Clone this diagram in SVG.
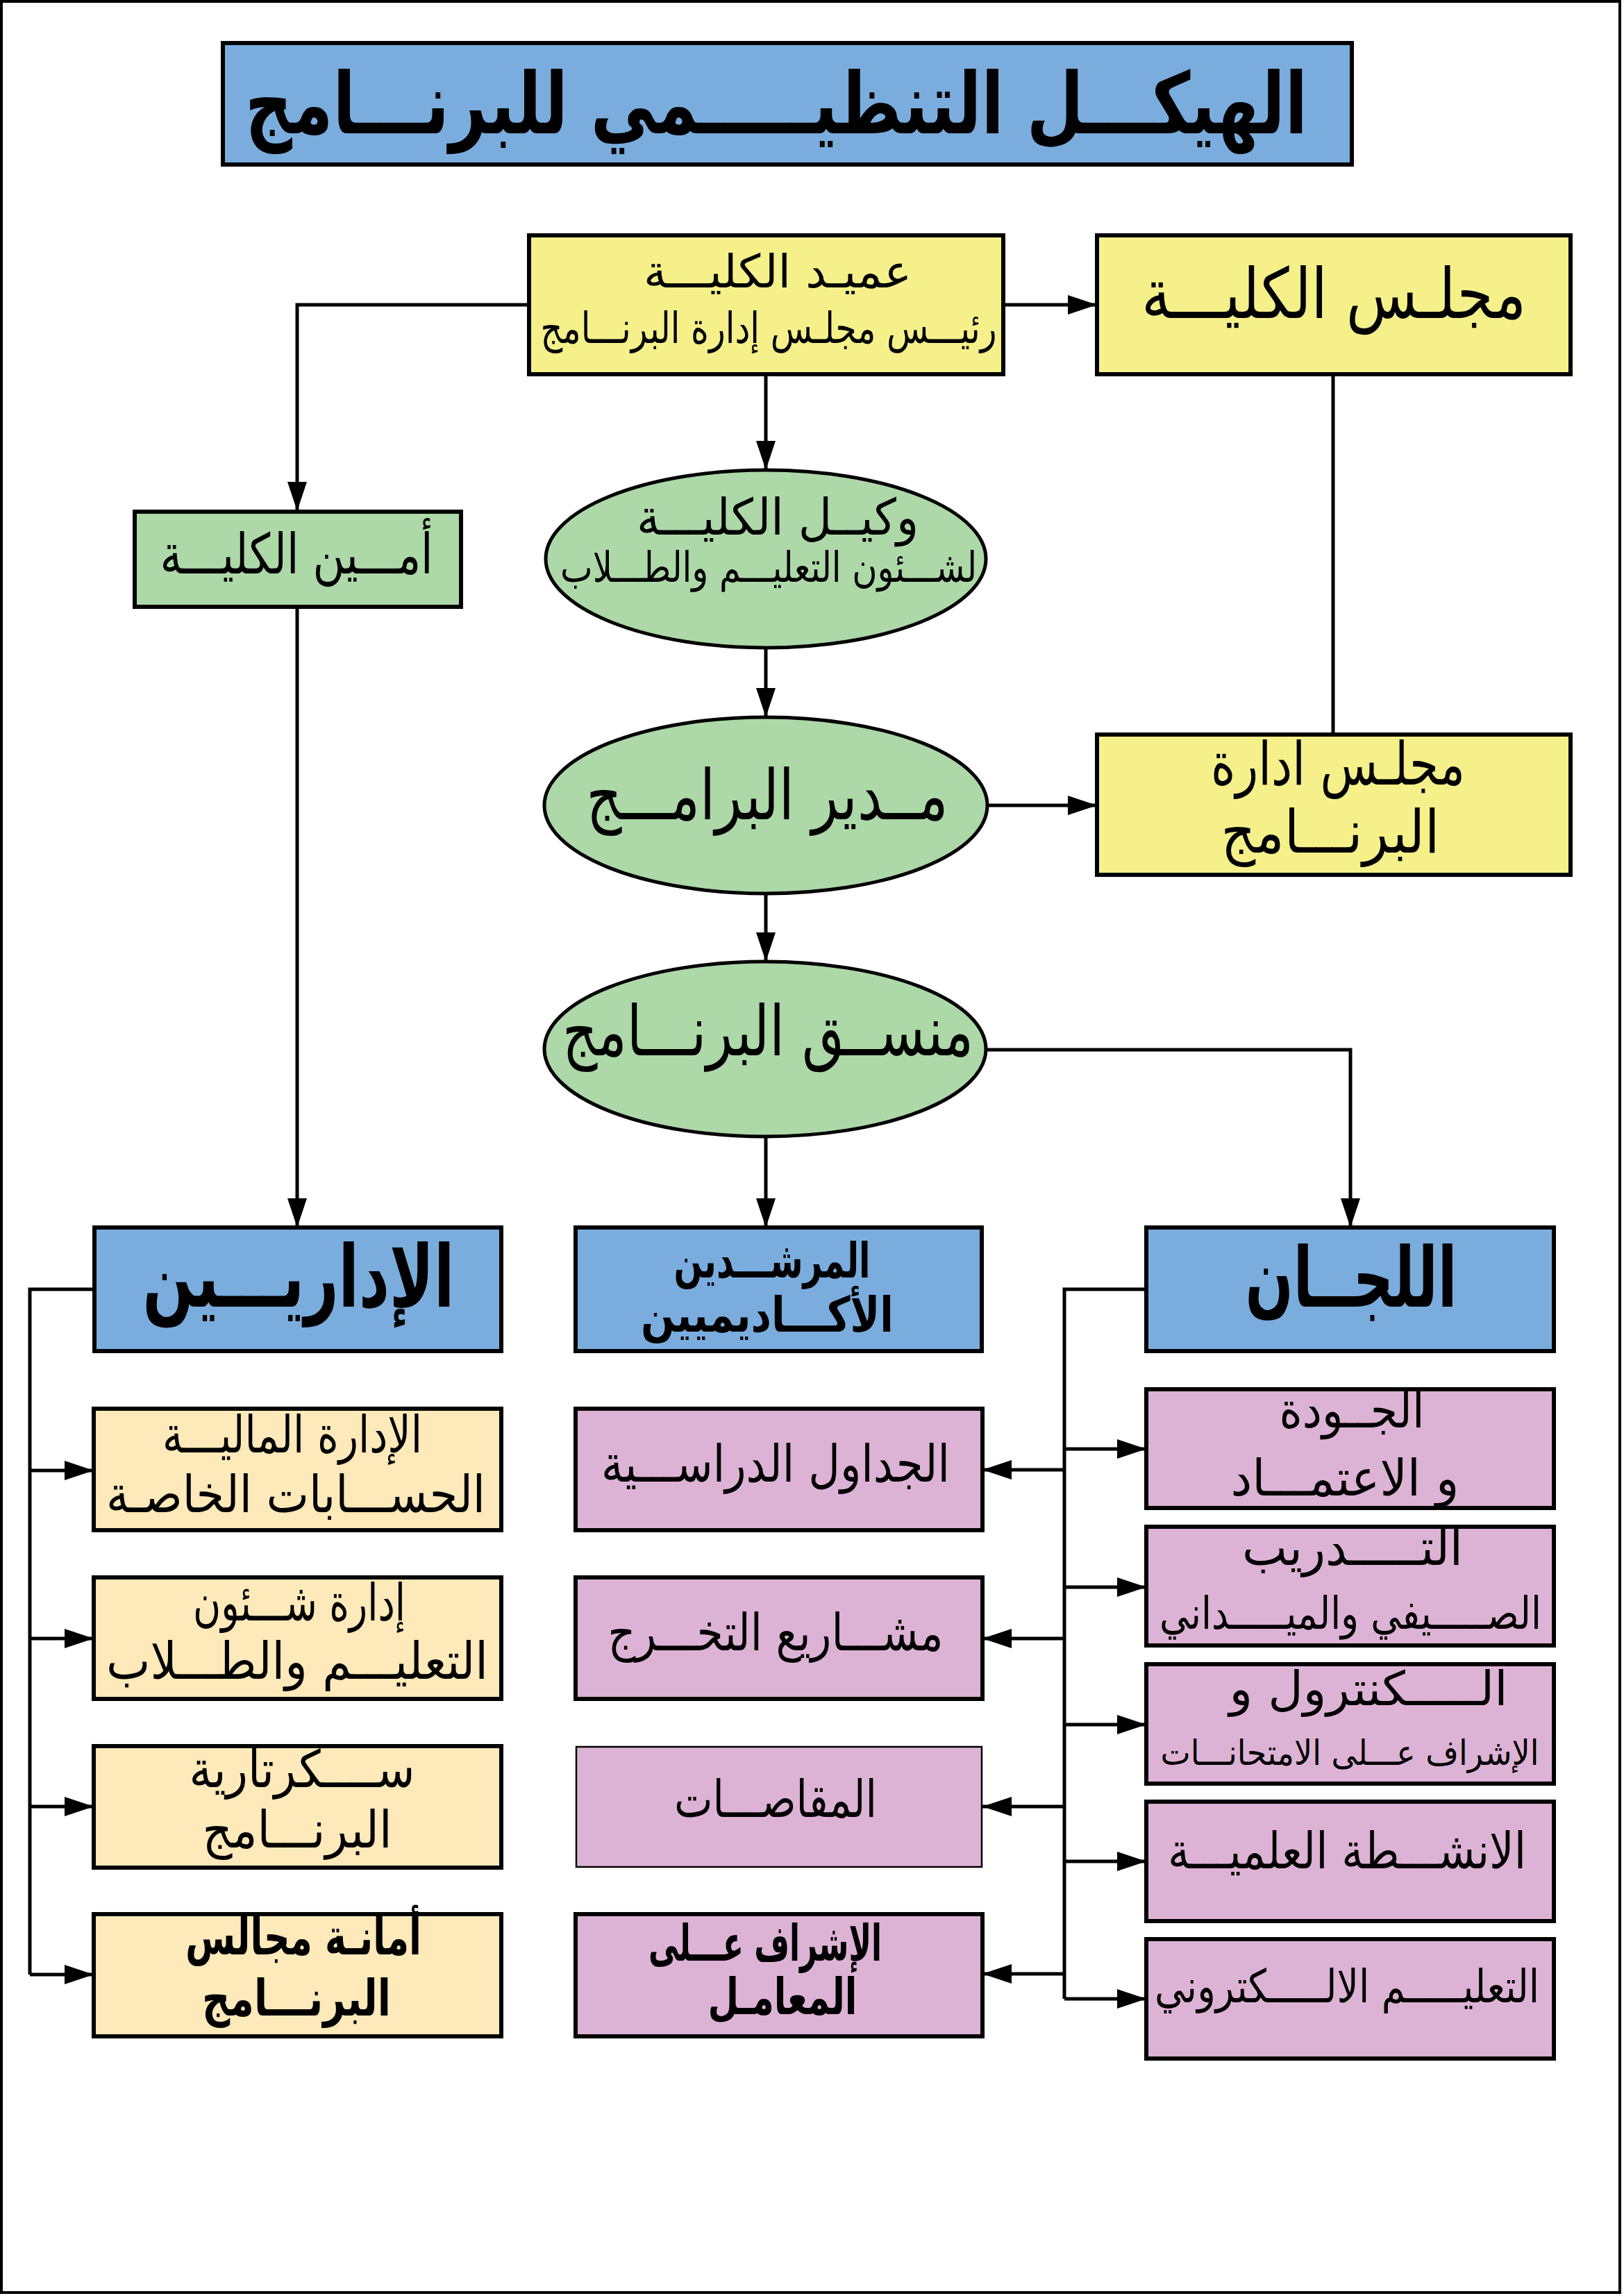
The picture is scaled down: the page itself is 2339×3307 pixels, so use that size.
<svg xmlns="http://www.w3.org/2000/svg" width="2339" height="3307" viewBox="0 0 2339 3307">
<style>
.box{stroke:#000;stroke-width:6}
.thin{stroke:#000;stroke-width:2.5}
.blue{fill:#7aaddd}
.yel{fill:#f5f08a}
.grn{fill:#add8a8}
.peach{fill:#fde9b9}
.pink{fill:#ddb3d5}
text{font-family:"DejaVu Sans",sans-serif;fill:#000;text-anchor:middle}
.b{font-weight:bold}
.con{fill:none;stroke:#000;stroke-width:5}
</style>
<defs>
<marker id="ah" markerUnits="userSpaceOnUse" markerWidth="42" markerHeight="28" refX="42" refY="14" orient="auto">
<path d="M0,0 L42,14 L0,28 z" fill="#000"/>
</marker>
</defs>
<rect x="2" y="2" width="2331" height="3300" fill="#fff" stroke="#000" stroke-width="4"/>

<g id="title">
<rect class="box blue" x="321" y="62" width="1626" height="175"/>
<text class="b" x="1118" y="192" font-size="122" textLength="1530" lengthAdjust="spacingAndGlyphs">الهيكـــل التنظيـــــمي للبرنـــامج</text>
</g>

<g id="connectors">
<path class="con" d="M1445,439 H1580" marker-end="url(#ah)"/>
<path class="con" d="M762,439 H428 V736" marker-end="url(#ah)"/>
<path class="con" d="M1103,539 V677" marker-end="url(#ah)"/>
<path class="con" d="M1920,539 V1058"/>
<path class="con" d="M1103,933 V1033" marker-end="url(#ah)"/>
<path class="con" d="M1422,1160 H1580" marker-end="url(#ah)"/>
<path class="con" d="M1103,1287 V1385" marker-end="url(#ah)"/>
<path class="con" d="M428,874 V1768" marker-end="url(#ah)"/>
<path class="con" d="M1103,1637 V1768" marker-end="url(#ah)"/>
<path class="con" d="M1420,1512 H1945 V1768" marker-end="url(#ah)"/>
<path class="con" d="M136,1857 H43 V2844"/>
<path class="con" d="M43,2118 H135" marker-end="url(#ah)"/>
<path class="con" d="M43,2360 H135" marker-end="url(#ah)"/>
<path class="con" d="M43,2602 H135" marker-end="url(#ah)"/>
<path class="con" d="M43,2844 H135" marker-end="url(#ah)"/>
<path class="con" d="M1651,1857 H1533 V2879"/>
<path class="con" d="M1533,2087 H1651" marker-end="url(#ah)"/>
<path class="con" d="M1533,2286 H1651" marker-end="url(#ah)"/>
<path class="con" d="M1533,2484 H1651" marker-end="url(#ah)"/>
<path class="con" d="M1533,2681 H1651" marker-end="url(#ah)"/>
<path class="con" d="M1533,2879 H1651" marker-end="url(#ah)"/>
<path class="con" d="M1533,2117 H1415" marker-end="url(#ah)"/>
<path class="con" d="M1533,2360 H1415" marker-end="url(#ah)"/>
<path class="con" d="M1533,2602 H1415" marker-end="url(#ah)"/>
<path class="con" d="M1533,2843 H1415" marker-end="url(#ah)"/>
</g>

<g id="dean">
<rect class="box yel" x="762" y="339" width="683" height="200"/>
<text x="1120" y="414" font-size="66" textLength="386" lengthAdjust="spacingAndGlyphs">عميـد الكليـــة</text>
<text x="1107" y="494" font-size="62" textLength="657" lengthAdjust="spacingAndGlyphs">رئيـــس مجلـس إدارة البرنـــامج</text>
</g>

<g id="college-council">
<rect class="box yel" x="1580" y="339" width="682" height="200"/>
<text x="1921" y="458" font-size="100" textLength="554" lengthAdjust="spacingAndGlyphs">مجلـس الكليـــة</text>
</g>

<g id="college-secretary">
<rect class="box grn" x="194" y="737" width="470" height="137"/>
<text x="427" y="826" font-size="80" textLength="393" lengthAdjust="spacingAndGlyphs">أمـــين الكليـــة</text>
</g>

<g id="vice-dean">
<ellipse class="box grn" cx="1103" cy="805" rx="317" ry="128" style="stroke-width:5"/>
<text x="1120" y="770" font-size="72" textLength="406" lengthAdjust="spacingAndGlyphs">وكيــل الكليـــة</text>
<text x="1107" y="838" font-size="60" textLength="600" lengthAdjust="spacingAndGlyphs">لشـــئون التعليـــم والطـــلاب</text>
</g>

<g id="programs-director">
<ellipse class="box grn" cx="1103" cy="1160" rx="319" ry="127" style="stroke-width:5"/>
<text x="1105" y="1180" font-size="100" textLength="521" lengthAdjust="spacingAndGlyphs">مــدير البرامـــج</text>
</g>

<g id="program-board">
<rect class="box yel" x="1580" y="1058" width="682" height="202"/>
<text x="1927" y="1130" font-size="86" textLength="366" lengthAdjust="spacingAndGlyphs">مجلـس  ادارة</text>
<text x="1916" y="1228" font-size="86" textLength="315" lengthAdjust="spacingAndGlyphs">البرنـــامج</text>
</g>

<g id="program-coordinator">
<ellipse class="box grn" cx="1102" cy="1511" rx="318" ry="126" style="stroke-width:5"/>
<text x="1106" y="1520" font-size="100" textLength="592" lengthAdjust="spacingAndGlyphs">منســق البرنـــامج</text>
</g>

<g id="administrators">
<rect class="box blue" x="136" y="1768" width="586" height="178"/>
<text class="b" x="430" y="1882" font-size="124" textLength="449" lengthAdjust="spacingAndGlyphs">الإداريـــين</text>
</g>

<g id="advisors">
<rect class="box blue" x="829" y="1768" width="585" height="178"/>
<text class="b" x="1112" y="1840" font-size="70" textLength="283" lengthAdjust="spacingAndGlyphs">المرشـــدين</text>
<text class="b" x="1105" y="1918" font-size="70" textLength="364" lengthAdjust="spacingAndGlyphs">الأكـــاديميين</text>
</g>

<g id="committees">
<rect class="box blue" x="1651" y="1768" width="587" height="178"/>
<text class="b" x="1946" y="1882" font-size="120" textLength="305" lengthAdjust="spacingAndGlyphs">اللجــان</text>
</g>

<g id="finance">
<rect class="box peach" x="135" y="2029" width="587" height="175"/>
<text x="421" y="2092" font-size="74" textLength="374" lengthAdjust="spacingAndGlyphs">الإدارة الماليـــة</text>
<text x="426" y="2178" font-size="74" textLength="546" lengthAdjust="spacingAndGlyphs">الحســـابات الخاصـة</text>
</g>

<g id="student-affairs">
<rect class="box peach" x="135" y="2272" width="587" height="175"/>
<text x="431" y="2334" font-size="74" textLength="306" lengthAdjust="spacingAndGlyphs">إدارة شـــئون</text>
<text x="428" y="2418" font-size="74" textLength="550" lengthAdjust="spacingAndGlyphs">التعليـــم والطـــلاب</text>
</g>

<g id="program-secretariat">
<rect class="box peach" x="135" y="2515" width="587" height="175"/>
<text x="435" y="2574" font-size="74" textLength="325" lengthAdjust="spacingAndGlyphs">ســــكرتارية</text>
<text x="428" y="2661" font-size="74" textLength="273" lengthAdjust="spacingAndGlyphs">البرنـــامج</text>
</g>

<g id="councils-secretariat">
<rect class="box peach" x="135" y="2757" width="587" height="176"/>
<text class="b" x="437" y="2815" font-size="72" textLength="340" lengthAdjust="spacingAndGlyphs">أمانـة مجالس</text>
<text class="b" x="427" y="2903" font-size="72" textLength="272" lengthAdjust="spacingAndGlyphs">البرنـــامج</text>
</g>

<g id="timetables">
<rect class="box pink" x="829" y="2029" width="586" height="175"/>
<text x="1117" y="2134" font-size="74" textLength="502" lengthAdjust="spacingAndGlyphs">الجداول الدراســـية</text>
</g>

<g id="graduation-projects">
<rect class="box pink" x="829" y="2272" width="586" height="175"/>
<text x="1117" y="2377" font-size="74" textLength="483" lengthAdjust="spacingAndGlyphs">مشـــاريع التخـــرج</text>
</g>

<g id="equivalency">
<rect class="thin pink" x="830" y="2516" width="584" height="173"/>
<text x="1117" y="2617" font-size="74" textLength="292" lengthAdjust="spacingAndGlyphs">المقاصـــات</text>
</g>

<g id="labs">
<rect class="box pink" x="829" y="2757" width="586" height="176"/>
<text class="b" x="1102" y="2824" font-size="72" textLength="336" lengthAdjust="spacingAndGlyphs">الإشراف عـــلى</text>
<text class="b" x="1127" y="2901" font-size="72" textLength="215" lengthAdjust="spacingAndGlyphs">المعامـل</text>
</g>

<g id="quality">
<rect class="box pink" x="1651" y="2001" width="587" height="171"/>
<text x="1947" y="2056" font-size="72" textLength="209" lengthAdjust="spacingAndGlyphs">الجــودة</text>
<text x="1937" y="2154" font-size="72" textLength="329" lengthAdjust="spacingAndGlyphs">و الاعتمـــاد</text>
</g>

<g id="training">
<rect class="box pink" x="1651" y="2199" width="587" height="171"/>
<text x="1948" y="2254" font-size="72" textLength="318" lengthAdjust="spacingAndGlyphs">التـــــدريب</text>
<text x="1945" y="2346" font-size="64" textLength="550" lengthAdjust="spacingAndGlyphs">الصـــــيفي والميـــــداني</text>
</g>

<g id="control">
<rect class="box pink" x="1651" y="2397" width="587" height="172"/>
<text x="1971" y="2456" font-size="68" textLength="401" lengthAdjust="spacingAndGlyphs">الـــــكنترول و</text>
<text x="1944" y="2542" font-size="50" textLength="545" lengthAdjust="spacingAndGlyphs">الإشراف عـــلى الامتحانـــات</text>
</g>

<g id="activities">
<rect class="box pink" x="1651" y="2595" width="587" height="172"/>
<text x="1940" y="2691" font-size="72" textLength="516" lengthAdjust="spacingAndGlyphs">الانشـــطة العلميـــة</text>
</g>

<g id="elearning">
<rect class="box pink" x="1651" y="2793" width="587" height="172"/>
<text x="1940" y="2884" font-size="66" textLength="554" lengthAdjust="spacingAndGlyphs">التعليـــــم الالـــــكتروني</text>
</g>
</svg>
